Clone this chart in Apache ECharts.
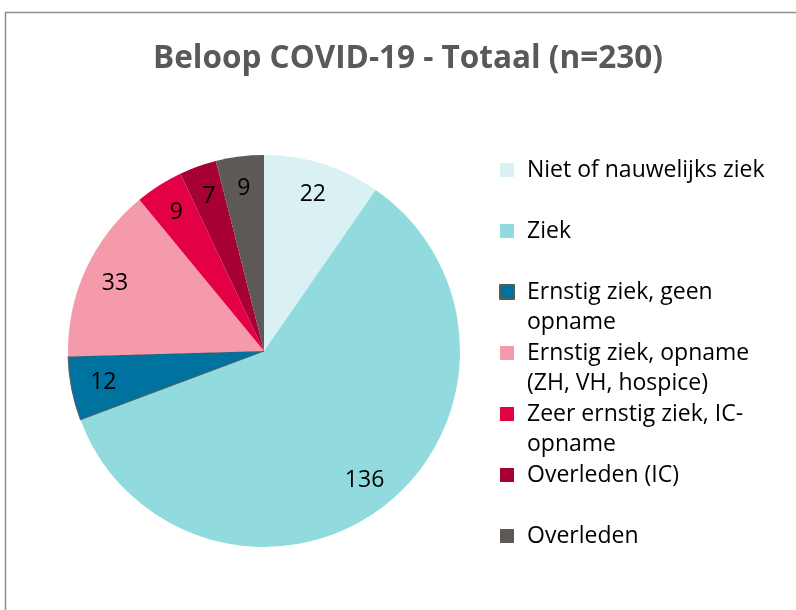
<!DOCTYPE html>
<html>
<head>
<meta charset="utf-8">
<script src="https://cdn.jsdelivr.net/npm/echarts@6/dist/echarts.min.js"></script>
<style>
  html, body { margin: 0; padding: 0; background: #fff; }
  #chart { width: 796px; height: 610px; }
</style>
</head>
<body>
<div id="chart"></div>
<script>
const categories = [
  'Niet of nauwelijks ziek',
  'Ziek',
  'Ernstig ziek, geen\nopname',
  'Ernstig ziek, opname\n(ZH, VH, hospice)',
  'Zeer ernstig ziek, IC-\nopname',
  'Overleden (IC)',
  'Overleden'
]
const values = [22, 136, 12, 33, 9, 7, 9]
const colors = ['#daf1f3', '#91dbde', '#0072a0', '#f49aab', '#e40045', '#a70034', '#5e5956']
const titleText = 'Beloop COVID-19 - Totaal (n=230)'

const chart = echarts.init(document.getElementById('chart'))

const font = '"Open Sans", Lato, sans-serif'
const center = [264, 351]
const r = 196

const pieData = categories.map((name, i) => ({
  name,
  value: values[i],
  itemStyle: {
    color: colors[i],
    // the dark blue slice has a thin grey edge in the original
    borderColor: i === 2 ? '#5a5a5a' : colors[i],
    borderWidth: i === 2 ? 1 : 0,
  },
}))

const option = {
  animation: false,
  backgroundColor: '#fff',
  title: {
    text: titleText,
    left: 403,
    top: 38,
    textAlign: 'center',
    textStyle: { fontFamily: font, fontSize: 31.5, fontWeight: 'bold', color: '#595959' },
  },
  graphic: [
    {
      type: 'rect',
      shape: { x: 5.5, y: 12.5, width: 900, height: 700 },
      style: { fill: null, stroke: '#8e8e8e', lineWidth: 1.5 },
      silent: true,
    },
  ],
  legend: {
    orient: 'vertical',
    left: 499,
    top: 125,
    padding: 0,
    icon: 'rect',
    itemWidth: 14,
    itemHeight: 14,
    itemGap: -29,
    selectedMode: false,
    data: categories,
    // pad every entry to three lines so the icon lines up with the first text line
    formatter: name => name.includes('\n') ? '\n' + name : '\n' + name + '\n',
    textStyle: {
      fontFamily: font,
      fontSize: 23,
      color: '#000',
      lineHeight: 30,
      padding: [0, 0, 0, 8],
    },
  },
  series: [
    {
      type: 'pie',
      center,
      radius: r,
      startAngle: 90,
      clockwise: true,
      silent: true,
      label: { show: false },
      labelLine: { show: false },
      data: pieData,
    },
    {
      // transparent ring only used to place the value labels
      type: 'pie',
      center,
      radius: [r * 0.64, r],
      startAngle: 90,
      clockwise: true,
      silent: true,
      itemStyle: { color: 'rgba(0,0,0,0)' },
      label: {
        show: true,
        position: 'inside',
        formatter: '{c}',
        fontFamily: font,
        fontSize: 23,
        color: '#000',
      },
      labelLine: { show: false },
      data: categories.map((name, i) => ({ name, value: values[i] })),
    },
  ],
}

chart.setOption(option)
</script>
</body>
</html>
